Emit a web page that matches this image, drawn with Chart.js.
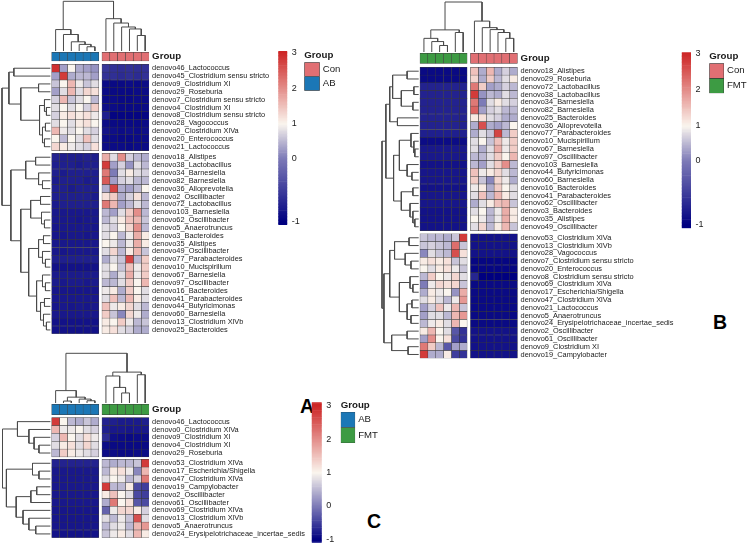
<!DOCTYPE html>
<html>
<head>
<meta charset="utf-8">
<script src="https://cdn.jsdelivr.net/npm/chart.js@4.4.1/dist/chart.umd.min.js"></script>
<style>
  body { margin: 0; background: #fff; width: 750px; height: 545px; position: relative; overflow: hidden; }
  canvas { position: absolute; }
  .tag { position: absolute; width: 30px; text-align: center; font: bold 19.5px/19.5px "Liberation Sans", Arial, sans-serif; color: #000; }
</style>
</head>
<body>
<div class="tag" style="left:292px; top:397px;">A</div>
<div class="tag" style="left:705px; top:313px;">B</div>
<div class="tag" style="left:359px; top:512px;">C</div>
<script>
Chart.defaults.font.family = '"Liberation Sans", Arial, sans-serif';
Chart.defaults.color = '#1a1a1a';

// ---------- data ----------
const groupColors = { Con: '#E16F73', AB: '#1B77B6', FMT: '#3D9B43' };
const legendTicks = [3, 2, 1, 0, -1];

// Panel A : AB vs Con
const rowsA = [
  'denovo46_Lactococcus', 'denovo45_Clostridium sensu stricto', 'denovo9_Clostridium XI', 'denovo29_Roseburia',
  'denovo7_Clostridium sensu stricto', 'denovo4_Clostridium XI', 'denovo8_Clostridium sensu stricto', 'denovo28_Vagococcus',
  'denovo0_Clostridium XlVa', 'denovo20_Enterococcus', 'denovo21_Lactococcus',
  'denovo18_Alistipes', 'denovo38_Lactobacillus', 'denovo34_Barnesiella', 'denovo82_Barnesiella', 'denovo36_Alloprevotella',
  'denovo2_Oscillibacter', 'denovo72_Lactobacillus', 'denovo103_Barnesiella', 'denovo62_Oscillibacter', 'denovo5_Anaerotruncus',
  'denovo3_Bacteroides', 'denovo35_Alistipes', 'denovo49_Oscillibacter', 'denovo77_Parabacteroides', 'denovo10_Mucispirillum',
  'denovo67_Barnesiella', 'denovo97_Oscillibacter', 'denovo16_Bacteroides', 'denovo41_Parabacteroides', 'denovo44_Butyricimonas',
  'denovo60_Barnesiella', 'denovo13_Clostridium XlVb', 'denovo25_Bacteroides'
];
const splitA = 11;
const groupsA = ['AB', 'AB', 'AB', 'AB', 'AB', 'AB', 'Con', 'Con', 'Con', 'Con', 'Con', 'Con'];
const valuesA = [
  [2.9, 0.3, 1.0, 0.4, 0.3, 0.2, -0.55, -0.6, -0.62, -0.6, -0.62, -0.6],
  [0.3, 2.8, 0.4, 0.5, 0.5, 0.3, -0.6, -0.62, -0.65, -0.62, -0.65, -0.6],
  [0.6, 1.0, 1.6, 0.9, 0.6, 0.8, -0.9, -0.92, -0.92, -0.9, -0.92, -0.9],
  [0.3, 0.8, 1.6, 0.8, 1.3, 1.2, -0.9, -0.92, -0.92, -0.92, -0.9, -0.9],
  [0.7, 1.6, 0.6, 0.8, 1.0, 0.5, -0.9, -0.9, -0.92, -0.92, -0.9, -0.9],
  [0.8, 1.0, 0.8, 1.0, 0.7, 1.4, -0.88, -0.9, -0.92, -0.92, -0.92, -0.9],
  [0.7, 1.1, 1.2, 1.1, 1.2, 0.9, -0.75, -0.96, -0.96, -0.96, -0.96, -0.95],
  [0.8, 1.0, 0.8, 1.1, 1.2, 1.0, -0.9, -0.92, -0.92, -0.92, -0.92, -0.9],
  [1.6, 0.9, 0.8, 1.0, 0.8, 0.7, -0.85, -0.88, -0.9, -0.88, -0.9, -0.88],
  [1.0, 0.5, 1.0, 0.8, 1.5, 0.8, -0.9, -0.9, -0.92, -0.92, -0.9, -0.9],
  [1.3, 1.1, 0.9, 0.8, 0.7, 1.2, -0.9, -0.9, -0.9, -0.92, -0.9, -0.9],
  [-0.72, -0.75, -0.75, -0.75, -0.72, -0.75, 1.7, 0.8, 2.0, 0.7, 0.5, 0.4],
  [-0.75, -0.75, -0.75, -0.78, -0.75, -0.75, 2.8, 0.3, 0.7, 0.2, 0.8, 0.5],
  [-0.75, -0.78, -0.75, -0.75, -0.75, -0.75, 2.2, 0.0, 0.8, 1.1, 0.8, 0.7],
  [-0.78, -0.75, -0.75, -0.75, -0.78, -0.75, 2.5, 0.3, 0.7, 0.8, 0.5, 0.5],
  [-0.75, -0.75, -0.78, -0.75, -0.75, -0.75, 0.4, 2.7, 0.4, 0.3, 0.5, 1.0],
  [-0.75, -0.75, -0.75, -0.75, -0.75, -0.78, 1.2, 1.4, 0.4, 0.7, 1.2, 0.5],
  [-0.78, -0.75, -0.75, -0.75, -0.75, -0.75, 2.2, 1.6, 0.3, 0.5, 0.8, 0.5],
  [-0.8, -0.8, -0.8, -0.8, -0.8, -0.8, 0.5, 0.3, 0.8, 1.4, 2.0, 0.5],
  [-0.8, -0.8, -0.8, -0.82, -0.8, -0.8, 0.5, 0.8, 1.1, 1.5, 1.6, 0.6],
  [-0.82, -0.8, -0.8, -0.8, -0.8, -0.82, 0.8, 0.7, 1.0, 1.3, 2.0, 0.5],
  [-0.82, -0.82, -0.8, -0.8, -0.82, -0.8, 0.8, 1.0, 0.5, 0.9, 1.7, 1.1],
  [-0.8, -0.8, -0.8, -0.8, -0.8, -0.8, 1.0, 0.9, 0.5, 0.9, 1.7, 1.1],
  [-0.8, -0.82, -0.8, -0.8, -0.8, -0.8, 0.8, 1.3, 0.5, 1.1, 1.6, 0.6],
  [-0.75, -0.75, -0.75, -0.75, -0.75, -0.75, 0.4, 0.8, 0.6, 2.7, 0.5, 1.4],
  [-0.85, -0.85, -0.85, -0.85, -0.85, -0.85, 0.8, 1.0, 0.6, 1.5, 0.9, 1.4],
  [-0.78, -0.78, -0.78, -0.78, -0.78, -0.78, 0.8, 0.4, 0.8, 1.7, 0.9, 1.4],
  [-0.78, -0.8, -0.78, -0.78, -0.8, -0.78, 0.5, 0.5, 0.8, 1.4, 1.0, 1.6],
  [-0.82, -0.82, -0.82, -0.82, -0.82, -0.82, 0.9, 1.1, 0.4, 1.4, 1.0, 0.8],
  [-0.8, -0.8, -0.8, -0.8, -0.8, -0.8, 0.8, 1.5, 0.5, 1.6, 1.1, 0.8],
  [-0.82, -0.8, -0.82, -0.8, -0.82, -0.8, 1.5, 0.9, 1.1, 1.3, 0.8, 0.5],
  [-0.8, -0.8, -0.8, -0.8, -0.8, -0.8, 1.4, 0.6, 0.1, 1.3, 0.9, 0.4],
  [-0.85, -0.85, -0.85, -0.85, -0.85, -0.85, 1.1, 1.0, 1.4, 0.9, 0.5, 0.6],
  [-0.85, -0.85, -0.85, -0.85, -0.85, -0.85, 1.1, 1.2, 0.8, 0.7, 0.4, 0.4]
];
// dendrograms: [height, left, right], leaves are row / column indices
const colTreeA = [50.3, [21.7, 0, [16.7, 1, [9.3, 2, [6.7, 3, [4.3, 4, 5]]]]],
                        [32.7, 6, [28.3, 7, [24.3, 8, [22.3, 9, [15.7, 10, 11]]]]]];
const rowTreeA = [49,
  [42, [37, 0, 1], [30, [12, 2, 3], [11, [6, 4, [4, 5, 6]], [8, [5, 7, 8], [6, 9, 10]]]]],
  [40, [25, [15, 11, 12], [12, 13, [8, 14, 15]]],
       [30, [20, [10, 16, 17], [9, 18, [6, 19, 20]]],
            [22, [12, [7, 21, 22], [8, 23, [5, 24, 25]]],
                 [14, [8, 26, [5, 27, 28]], [10, [6, 29, 30], [7, 31, [4, 32, 33]]]]]]]];

// Panel B : FMT vs Con
const rowsB = [
  'denovo18_Alistipes', 'denovo29_Roseburia', 'denovo72_Lactobacillus', 'denovo38_Lactobacillus', 'denovo34_Barnesiella',
  'denovo82_Barnesiella', 'denovo25_Bacteroides', 'denovo36_Alloprevotella', 'denovo77_Parabacteroides', 'denovo10_Mucispirillum',
  'denovo67_Barnesiella', 'denovo97_Oscillibacter', 'denovo103_Barnesiella', 'denovo44_Butyricimonas', 'denovo60_Barnesiella',
  'denovo16_Bacteroides', 'denovo41_Parabacteroides', 'denovo62_Oscillibacter', 'denovo3_Bacteroides', 'denovo35_Alistipes',
  'denovo49_Oscillibacter',
  'denovo53_Clostridium XlVa', 'denovo13_Clostridium XlVb', 'denovo28_Vagococcus', 'denovo7_Clostridium sensu stricto',
  'denovo20_Enterococcus', 'denovo8_Clostridium sensu stricto', 'denovo69_Clostridium XlVa', 'denovo17_Escherichia/Shigella',
  'denovo47_Clostridium XlVa', 'denovo21_Lactococcus', 'denovo5_Anaerotruncus', 'denovo24_Erysipelotrichaceae_incertae_sedis',
  'denovo2_Oscillibacter', 'denovo61_Oscillibacter', 'denovo9_Clostridium XI', 'denovo19_Campylobacter'
];
const splitB = 21;
const groupsB = ['FMT', 'FMT', 'FMT', 'FMT', 'FMT', 'FMT', 'Con', 'Con', 'Con', 'Con', 'Con', 'Con'];
const valuesB = [
  [-0.92, -0.92, -0.92, -0.92, -0.92, -0.92, 1.5, 0.4, 1.6, 0.4, 0.7, 0.4],
  [-0.92, -0.92, -0.92, -0.92, -0.92, -0.92, 1.3, 0.4, 1.4, 0.5, 0.8, 1.1],
  [-0.72, -0.72, -0.72, -0.72, -0.72, -0.72, 2.2, 1.4, 0.3, 0.4, 0.7, 0.5],
  [-0.72, -0.72, -0.72, -0.72, -0.72, -0.72, 2.8, 0.2, 0.5, 0.4, 0.8, 0.5],
  [-0.72, -0.72, -0.72, -0.72, -0.72, -0.72, 2.2, 0.0, 0.8, 1.1, 0.8, 0.7],
  [-0.72, -0.72, -0.72, -0.72, -0.72, -0.72, 2.4, 0.3, 0.7, 0.8, 0.5, 0.5],
  [-0.72, -0.72, -0.72, -0.72, -0.72, -0.72, 1.1, 1.2, 0.8, 0.7, 0.4, 0.4],
  [-0.72, -0.72, -0.72, -0.72, -0.72, -0.72, 0.4, 2.6, 0.4, 0.3, 0.5, 1.0],
  [-0.75, -0.75, -0.75, -0.75, -0.75, -0.75, 0.4, 0.8, 0.6, 2.7, 0.5, 1.4],
  [-0.9, -0.9, -0.9, -0.9, -0.9, -0.9, 0.8, 1.0, 0.6, 1.5, 0.9, 1.4],
  [-0.8, -0.8, -0.8, -0.8, -0.8, -0.8, 0.8, 0.4, 0.8, 1.7, 0.9, 1.4],
  [-0.8, -0.8, -0.8, -0.8, -0.8, -0.8, 0.5, 0.5, 0.8, 1.4, 1.0, 1.6],
  [-0.85, -0.85, -0.85, -0.85, -0.85, -0.85, 0.5, 0.3, 0.8, 1.4, 2.0, 0.5],
  [-0.82, -0.82, -0.82, -0.82, -0.82, -0.82, 1.5, 0.9, 1.1, 1.3, 0.8, 0.5],
  [-0.82, -0.82, -0.82, -0.82, -0.82, -0.82, 1.4, 0.6, 0.1, 1.3, 0.9, 0.4],
  [-0.85, -0.85, -0.85, -0.85, -0.85, -0.85, 0.9, 1.1, 0.4, 1.4, 1.0, 0.8],
  [-0.82, -0.82, -0.82, -0.82, -0.82, -0.82, 0.8, 1.5, 0.5, 1.6, 1.1, 0.8],
  [-0.82, -0.82, -0.82, -0.82, -0.82, -0.82, 0.4, 0.8, 1.1, 1.5, 1.6, 0.6],
  [-0.85, -0.85, -0.85, -0.85, -0.85, -0.85, 0.8, 1.0, 0.5, 0.9, 1.7, 1.1],
  [-0.85, -0.85, -0.85, -0.85, -0.85, -0.85, 1.0, 0.9, 0.5, 0.9, 1.7, 1.1],
  [-0.85, -0.85, -0.85, -0.85, -0.85, -0.85, 0.8, 1.3, 0.5, 1.1, 1.6, 0.6],
  [0.6, 0.5, 0.5, 0.4, 0.6, 2.8, -0.85, -0.85, -0.85, -0.85, -0.85, -0.85],
  [0.6, 0.7, 0.6, 0.5, 2.3, 0.6, -0.85, -0.85, -0.85, -0.85, -0.85, -0.85],
  [0.1, 0.8, 0.6, 0.5, 2.6, 1.2, -0.85, -0.85, -0.85, -0.85, -0.85, -0.85],
  [1.1, 1.2, 1.1, 1.2, 0.6, 0.8, -0.95, -0.95, -0.95, -0.95, -0.95, -0.95],
  [1.0, 0.8, 1.1, 1.2, 0.9, 0.6, -0.95, -0.95, -0.95, -0.95, -0.95, -0.95],
  [0.5, 1.4, 1.0, 0.9, 1.3, 0.8, -0.7, -1.0, -1.0, -1.0, -1.0, -1.0],
  [0.0, 0.9, 1.3, 1.2, 1.3, 0.6, -0.92, -0.92, -0.92, -0.92, -0.92, -0.92],
  [0.4, 1.1, 0.9, 1.0, 0.2, 1.7, -0.92, -0.92, -0.92, -0.92, -0.92, -0.92],
  [0.8, 1.1, 0.8, 0.5, 0.9, 1.9, -0.92, -0.92, -0.92, -0.92, -0.92, -0.92],
  [0.3, 0.7, 1.5, 0.9, 1.6, 0.6, -0.92, -0.92, -0.92, -0.92, -0.92, -0.92],
  [0.3, 0.8, 0.8, 0.5, 1.6, 1.9, -0.92, -0.92, -0.92, -0.92, -0.92, -0.92],
  [0.5, 0.9, 1.1, 0.8, 1.6, 1.0, -0.92, -0.92, -0.92, -0.92, -0.92, -0.92],
  [1.1, 1.6, 1.0, 0.8, -0.3, -0.6, -0.85, -0.85, -0.85, -0.85, -0.85, -0.85],
  [0.3, 2.0, 1.0, 1.2, -0.4, -0.6, -0.85, -0.85, -0.85, -0.85, -0.85, -0.85],
  [2.2, 1.4, 0.5, -0.3, 0.3, 0.4, -0.85, -0.85, -0.85, -0.85, -0.85, -0.85],
  [2.8, 0.4, 0.4, 1.1, -0.5, -0.6, -0.85, -0.85, -0.85, -0.85, -0.85, -0.85]
];
const colTreeB = [51.3, [22.7, [14, 0, [10.7, 1, [6.7, 2, 3]]], [20, 4, 5]],
                        [31.7, 6, [25, 7, [23, 8, [20, 9, [14, 10, 11]]]]]];
const rowTreeB = [38,
  [34, [30, [27, [12, 0, 1], [18, [5, 2, 3], [6, 4, 5]]], [22, 6, 7]],
       [26, [20, [8, 8, [5, 9, [4, 10, 11]]], [12, 12, [7, 13, 14]]],
            [18, [6, 15, 16], [9, 17, [6, 18, [4, 19, 20]]]]]],
  [36, [30, [25, [10, 21, 22], [14, 23, [8, 24, 25]]],
            [20, [9, 26, [6, 27, 28]], [12, [7, 29, 30], [8, 31, 32]]]],
       [28, [12, 33, 34], [11, 35, 36]]]];

// Panel C : AB vs FMT
const rowsC = [
  'denovo46_Lactococcus', 'denovo0_Clostridium XlVa', 'denovo9_Clostridium XI', 'denovo4_Clostridium XI', 'denovo29_Roseburia',
  'denovo53_Clostridium XlVa', 'denovo17_Escherichia/Shigella', 'denovo47_Clostridium XlVa', 'denovo19_Campylobacter',
  'denovo2_Oscillibacter', 'denovo61_Oscillibacter', 'denovo69_Clostridium XlVa', 'denovo13_Clostridium XlVb',
  'denovo5_Anaerotruncus', 'denovo24_Erysipelotrichaceae_incertae_sedis'
];
const splitC = 5;
const groupsC = ['AB', 'AB', 'AB', 'AB', 'AB', 'AB', 'FMT', 'FMT', 'FMT', 'FMT', 'FMT', 'FMT'];
const valuesC = [
  [2.8, 1.0, 0.5, 0.4, 0.6, 0.4, -0.72, -0.75, -0.78, -0.78, -0.78, -0.75],
  [1.6, 0.9, 0.9, 1.0, 0.8, 0.7, -0.75, -0.8, -0.8, -0.82, -0.8, -0.8],
  [0.7, 1.6, 1.0, 0.8, 1.2, 0.9, -0.65, -0.88, -0.9, -0.92, -0.9, -0.9],
  [0.8, 1.1, 1.2, 0.8, 1.3, 0.8, -0.9, -0.92, -0.92, -0.92, -0.92, -0.92],
  [0.5, 1.4, 1.1, 0.9, 0.8, 0.7, -0.9, -0.9, -0.92, -0.92, -0.9, -0.9],
  [-0.72, -0.72, -0.72, -0.72, -0.72, -0.72, 0.5, 0.4, 0.5, 0.5, 0.6, 2.8],
  [-0.8, -0.8, -0.8, -0.8, -0.8, -0.8, 0.5, 1.1, 1.2, 0.9, 0.1, 1.6],
  [-0.8, -0.8, -0.8, -0.8, -0.8, -0.8, 0.8, 1.0, 0.9, 0.5, 0.7, 2.2],
  [-0.8, -0.8, -0.8, -0.8, -0.8, -0.8, 2.8, 0.5, 0.5, 1.1, -0.4, -0.5],
  [-0.8, -0.8, -0.8, -0.8, -0.8, -0.8, 1.1, 1.5, 1.0, 0.8, -0.4, -0.5],
  [-0.8, -0.8, -0.8, -0.8, -0.8, -0.8, 0.4, 2.2, 1.0, 1.2, -0.3, -0.4],
  [-0.82, -0.82, -0.82, -0.82, -0.82, -0.82, -0.2, 0.9, 1.3, 1.3, 1.1, 0.7],
  [-0.82, -0.82, -0.82, -0.82, -0.82, -0.82, 0.8, 0.5, 0.9, 0.6, 2.6, 0.8],
  [-0.82, -0.82, -0.82, -0.82, -0.82, -0.82, 0.5, 0.8, 0.9, 0.5, 1.6, 1.9],
  [-0.85, -0.85, -0.85, -0.85, -0.85, -0.85, 0.6, 0.9, 1.1, 0.8, 1.6, 1.1]
];
const colTreeC = [51, [12.7, 0, [6, [2, 1, 2], [4, 3, [2.3, 4, 5]]]],
                      [31.7, [27.7, 6, [16, 7, [10.3, 8, 9]]], [29, 10, 11]]];
const rowTreeC = [49,
  [33.7, 0, [22, 1, [16.7, 2, [11.7, 3, 4]]]],
  [45, [18.3, 5, [11.7, 6, 7]], [35, [20, [14, 8, 9], 10], [28, 11, [22, 12, [15, 13, 14]]]]]];

// ---------- layout (page pixels) ----------
const layoutA = { hmLeft: 51.7, hmTop: 64.3, cellW: 7.85, cellH: 7.85, colGap: 3.2, rowGap: 2.65,
  groupTop: 52.3, groupH: 8.7, colTreeTop: 1.3, rowTreeLeft: 2, leafGap: 1.3, axisW: 124 };
const layoutB = { hmLeft: 420, hmTop: 67.3, cellW: 7.85, cellH: 7.78, colGap: 3.4, rowGap: 3.2,
  groupTop: 53.3, groupH: 10, colTreeTop: 2, rowTreeLeft: 382, leafGap: 1.3, axisW: 158 };
const layoutC = { hmLeft: 51.7, hmTop: 417.7, cellW: 7.85, cellH: 7.85, colGap: 3.2, rowGap: 2.4,
  groupTop: 404.3, groupH: 10.4, colTreeTop: 353.3, rowTreeLeft: 2.5, leafGap: 1.3, axisW: 156 };
// colour key: value -> fraction of bar height (from bottom)
const keyKnotsAB = [[-1.06, 0], [-1, 0.02], [0, 0.384], [1, 0.582], [2, 0.786], [3, 0.993], [3.03, 1]];
const keyKnotsC = [[-1.1, 0], [3.1, 1]];

// ---------- helpers ----------
const stopVals = [-1, 1, 3];
const stopCols = [[0, 0, 128], [250, 245, 238], [205, 38, 38]];
function heatColor(v) {
  v = Math.max(-1, Math.min(3, v));
  const i = v <= 1 ? 0 : 1;
  const t = (v - stopVals[i]) / (stopVals[i + 1] - stopVals[i]);
  const a = stopCols[i], b = stopCols[i + 1];
  return 'rgb(' + [0, 1, 2].map(k => Math.round(a[k] + (b[k] - a[k]) * t)).join(',') + ')';
}

function interp(knots, x, from, to) {
  let k = 0;
  while (k < knots.length - 2 && x > knots[k + 1][from]) k++;
  const p = knots[k], q = knots[k + 1];
  return p[to] + (q[to] - p[to]) * (x - p[from]) / (q[from] - p[from]);
}

function makeCanvas(left, top, w, h) {
  const c = document.createElement('canvas');
  c.width = w; c.height = h;
  c.style.left = left + 'px'; c.style.top = top + 'px';
  c.style.width = w + 'px'; c.style.height = h + 'px';
  document.body.appendChild(c);
  return c;
}

function treeLine(tree, leafPos, toXY) {
  const pts = [];
  (function walk(n) {
    if (typeof n === 'number') return { p: leafPos(n), h: 0 };
    const a = walk(n[1]), b = walk(n[2]);
    pts.push(toXY(a.p, a.h), toXY(a.p, n[0]), toXY(b.p, n[0]), toXY(b.p, b.h), { x: null, y: null });
    return { p: (a.p + b.p) / 2, h: n[0] };
  })(tree);
  return { type: 'line', data: pts, borderColor: '#4a4a4a', borderWidth: 1, pointRadius: 0,
    fill: false, tension: 0, spanGaps: false };
}

function buildHeatmap(L, rows, split, groups, values, colTree, rowTree) {
  const nR = rows.length, nC = groups.length, half = nC / 2;
  const cgU = L.colGap / L.cellW, rgU = L.rowGap / L.cellH;
  const colX = i => i + 0.5 + (i >= half ? cgU : 0);
  const rowY0 = j => j + (j >= split ? rgU : 0);
  const hmRight = L.hmLeft + nC * L.cellW + L.colGap;
  const hmBottom = L.hmTop + nR * L.cellH + L.rowGap;
  const left = Math.floor(L.rowTreeLeft - 1.5);
  const top = Math.max(0, Math.floor(L.colTreeTop - 1.5));
  const W = Math.ceil(hmRight - left + L.axisW);
  const H = Math.ceil(hmBottom - top + 6);
  const axisW = W - (hmRight - left);
  const padBottom = H - (hmBottom - top);
  const gTop = (L.groupTop - L.hmTop) / L.cellH;
  const gBot = gTop + L.groupH / L.cellH;

  const datasets = [];
  for (let c = 0; c < nC; c++) {
    datasets.push({
      type: 'bar',
      data: rows.map((r, j) => ({ x: colX(c), y: [rowY0(j), rowY0(j) + 1] })),
      backgroundColor: values.map(row => heatColor(row[c]))
    });
  }
  datasets.push({
    type: 'bar',
    data: groups.map((g, c) => ({ x: colX(c), y: [gTop, gBot] })),
    backgroundColor: groups.map(g => groupColors[g])
  });
  const kc = (L.groupTop - L.leafGap - L.colTreeTop) / colTree[0];
  const kr = (L.hmLeft - L.leafGap - L.rowTreeLeft) / rowTree[0];
  datasets.push(treeLine(colTree, colX, (p, h) => ({ x: p, y: gTop - (L.leafGap + h * kc) / L.cellH })));
  datasets.push(treeLine(rowTree, j => rowY0(j) + 0.5, (p, h) => ({ x: -(L.leafGap + h * kr) / L.cellW, y: p })));

  const tickPos = [(gTop + gBot) / 2].concat(rows.map((r, j) => rowY0(j) + 0.5));
  const tickText = ['Group'].concat(rows);

  new Chart(makeCanvas(left, top, W, H), {
    type: 'bar',
    data: { datasets },
    options: {
      responsive: false, animation: false, events: [],
      layout: { padding: { left: 0, right: 0, top: 0, bottom: padBottom } },
      datasets: { bar: { grouped: false, categoryPercentage: 1, barPercentage: 1,
        borderWidth: 0.5, borderColor: '#3a3a3a', borderSkipped: false } },
      plugins: { legend: { display: false }, tooltip: { enabled: false } },
      scales: {
        x: { type: 'linear', display: false,
          min: -(L.hmLeft - left) / L.cellW, max: (hmRight - L.hmLeft) / L.cellW,
          afterBuildTicks: s => { s.ticks = []; } },
        y: { type: 'linear', position: 'right', reverse: true,
          min: -(L.hmTop - top) / L.cellH, max: (hmBottom - L.hmTop) / L.cellH,
          grid: { display: false, drawTicks: false }, border: { display: false },
          afterBuildTicks: s => { s.ticks = tickPos.map(v => ({ value: v })); },
          afterFit: s => { s.width = axisW; s.paddingTop = 0; s.paddingBottom = 0; },
          ticks: { autoSkip: false, padding: 3, color: '#1a1a1a',
            callback: (v, i) => tickText[i],
            font: ctx => ctx.index === 0 ? { size: 9.7, weight: 'bold' } : { size: 7.4 } } }
      }
    }
  });
}

function buildColorKey(B, knots) {
  const left = Math.floor(B.left), top = Math.floor(B.top - 8);
  const padL = B.left - left, padT = B.top - top;
  const W = Math.ceil(padL + B.width + 22), H = Math.ceil(padT + B.height + 8);
  const axisW = W - padL - B.width, padB = H - padT - B.height;
  const N = 120;
  const segs = [], cols = [];
  for (let k = 0; k < N; k++) {
    segs.push({ x: 0, y: [k / N, (k + 1) / N] });
    cols.push(heatColor(interp(knots, (k + 0.5) / N, 1, 0)));
  }
  new Chart(makeCanvas(left, top, W, H), {
    type: 'bar',
    data: { datasets: [{ data: segs, backgroundColor: cols, borderWidth: 0,
      grouped: false, categoryPercentage: 1, barPercentage: 1 }] },
    options: {
      responsive: false, animation: false, events: [],
      layout: { padding: { left: padL, right: 0, top: padT, bottom: padB } },
      plugins: { legend: { display: false }, tooltip: { enabled: false } },
      scales: {
        x: { type: 'linear', display: false, min: -0.5, max: 0.5, afterBuildTicks: s => { s.ticks = []; } },
        y: { type: 'linear', position: 'right', min: 0, max: 1,
          grid: { display: false, drawTicks: false }, border: { display: false },
          afterBuildTicks: s => { s.ticks = legendTicks.map(v => ({ value: interp(knots, v, 0, 1) })); },
          afterFit: s => { s.width = axisW; s.paddingTop = 0; s.paddingBottom = 0; },
          ticks: { autoSkip: false, padding: 4.5, color: '#1a1a1a', font: { size: 9 },
            callback: (v, i) => String(legendTicks[i]) } }
      }
    }
  });
}

function buildGroupKey(G, names) {
  const titleH = 9.7 * 1.2 + 1;
  const left = Math.floor(G.left), top = Math.floor(G.boxTop - titleH);
  const padL = G.left - left, padT = G.boxTop - titleH - top;
  const W = Math.ceil(padL + G.boxW + 30), H = Math.ceil(G.boxTop - top + G.boxH * names.length + 2);
  const axisW = W - padL - G.boxW, padB = H - (G.boxTop - top) - G.boxH * names.length;
  new Chart(makeCanvas(left, top, W, H), {
    type: 'bar',
    data: { labels: names, datasets: [{ data: names.map(() => [0, 1]),
      backgroundColor: names.map(n => groupColors[n]), borderColor: '#333', borderWidth: 0.7,
      borderSkipped: false, categoryPercentage: 1, barPercentage: 1 }] },
    options: {
      indexAxis: 'y', responsive: false, animation: false, events: [],
      layout: { padding: { left: padL, right: 0, top: padT, bottom: padB } },
      plugins: { legend: { display: false }, tooltip: { enabled: false },
        title: { display: true, text: 'Group', align: 'start', color: '#1a1a1a',
          font: { size: 9.7, weight: 'bold' }, padding: { top: 0, bottom: 1 } } },
      scales: {
        x: { type: 'linear', display: false, min: 0, max: 1 },
        y: { type: 'category', position: 'right',
          grid: { display: false, drawTicks: false }, border: { display: false },
          afterFit: s => { s.width = axisW; s.paddingTop = 0; s.paddingBottom = 0; },
          ticks: { autoSkip: false, padding: 3, color: '#1a1a1a', font: { size: 9.6 } } }
      }
    }
  });
}

// ---------- draw ----------
buildHeatmap(layoutA, rowsA, splitA, groupsA, valuesA, colTreeA, rowTreeA);
buildHeatmap(layoutB, rowsB, splitB, groupsB, valuesB, colTreeB, rowTreeB);
buildHeatmap(layoutC, rowsC, splitC, groupsC, valuesC, colTreeC, rowTreeC);

buildColorKey({ left: 278.3, top: 51, width: 9, height: 174 }, keyKnotsAB);
buildColorKey({ left: 681.7, top: 52.3, width: 9.3, height: 176 }, keyKnotsAB);
buildColorKey({ left: 311.7, top: 402.3, width: 10, height: 140.4 }, keyKnotsC);

buildGroupKey({ left: 304.3, boxTop: 62.3, boxW: 15.5, boxH: 14.2 }, ['Con', 'AB']);
buildGroupKey({ left: 709.3, boxTop: 63.3, boxW: 14.7, boxH: 15 }, ['Con', 'FMT']);
buildGroupKey({ left: 340.7, boxTop: 412, boxW: 14.5, boxH: 15.5 }, ['AB', 'FMT']);
</script>
</body>
</html>
